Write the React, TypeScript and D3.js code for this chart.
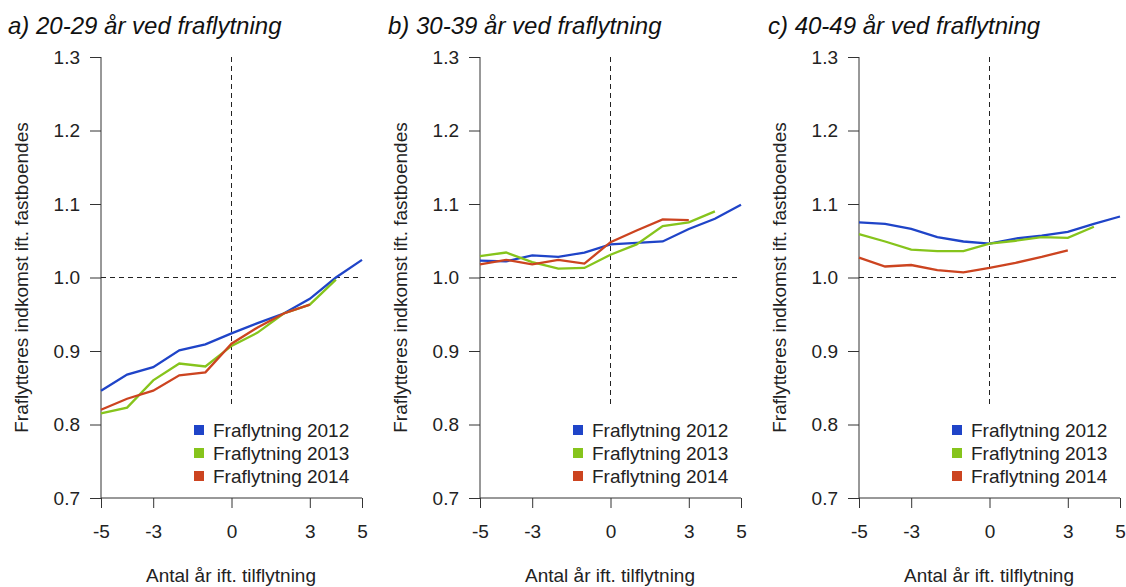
import React, { useEffect, useRef } from "react";
import * as d3 from "d3";

const years = [-5, -4, -3, -2, -1, 0, 1, 2, 3, 4, 5];
const xTicks = [-5, -3, 0, 3, 5];
const yTicks = [0.7, 0.8, 0.9, 1.0, 1.1, 1.2, 1.3];
const seriesNames = ["Fraflytning 2012", "Fraflytning 2013", "Fraflytning 2014"];
const seriesColors = ["#1f44c8", "#86c41c", "#cc4420"];
const panelTitles = ["a) 20-29 år ved fraflytning", "b) 30-39 år ved fraflytning", "c) 40-49 år ved fraflytning"];

// panel a: 20-29
const a2012 = [0.846, 0.868, 0.878, 0.901, 0.909, 0.924, 0.938, 0.951, 0.971, 1.0, 1.024];
const a2013 = [0.815, 0.823, 0.86, 0.883, 0.879, 0.907, 0.925, 0.951, 0.963, 0.997];
const a2014 = [0.82, 0.835, 0.846, 0.867, 0.871, 0.91, 0.932, 0.951, 0.963];
// panel b: 30-39
const b2012 = [1.023, 1.022, 1.03, 1.028, 1.034, 1.045, 1.047, 1.049, 1.066, 1.08, 1.099];
const b2013 = [1.029, 1.034, 1.021, 1.012, 1.013, 1.031, 1.045, 1.07, 1.075, 1.09];
const b2014 = [1.018, 1.024, 1.018, 1.024, 1.019, 1.048, 1.064, 1.079, 1.078];
// panel c: 40-49
const c2012 = [1.075, 1.073, 1.066, 1.055, 1.049, 1.046, 1.053, 1.057, 1.062, 1.073, 1.083];
const c2013 = [1.059, 1.049, 1.038, 1.036, 1.036, 1.046, 1.05, 1.055, 1.054, 1.069];
const c2014 = [1.027, 1.015, 1.017, 1.01, 1.007, 1.013, 1.02, 1.028, 1.037];

const panels = [
  [a2012, a2013, a2014],
  [b2012, b2013, b2014],
  [c2012, c2013, c2014],
];

const W = 1126;
const H = 587;

const App = () => {
  const ref = useRef<SVGSVGElement>(null);

  useEffect(() => {
    const svg = d3.select(ref.current);
    svg.selectAll("*").remove();
    const font = "Liberation Sans, Arial, sans-serif";

    panels.forEach((series, p) => {
      const left = 101 + p * 379;
      const x = d3.scaleLinear().domain([-5, 5]).range([left, left + 261]);
      const y = d3.scaleLinear().domain([0.7, 1.3]).range([498, 57]);
      const g = svg.append("g");

      g.append("text")
        .attr("x", 8 + p * 380)
        .attr("y", 34)
        .attr("font-family", font)
        .attr("font-style", "italic")
        .attr("font-size", 24)
        .attr("fill", "#111")
        .text(panelTitles[p]);

      // y axis
      const yAxis = g.append("g")
        .attr("transform", `translate(${left},0)`)
        .call(d3.axisLeft(y).tickValues(yTicks).tickFormat(d3.format(".1f")).tickSize(11).tickPadding(10));
      yAxis.select(".domain").attr("d", `M0,${y(0.7)}V${y(1.3)}`);
      yAxis.selectAll("text").attr("font-family", font).attr("font-size", 19).attr("fill", "#222");
      yAxis.selectAll("line,path").attr("stroke", "#333");

      // x axis
      const xAxis = g.append("g")
        .attr("transform", `translate(0,498)`)
        .call(d3.axisBottom(x).tickValues(xTicks).tickFormat((d) => String(d)).tickSize(10).tickPadding(17));
      xAxis.select(".domain").attr("d", `M${x(-5)},0H${x(5)}`);
      xAxis.selectAll("text").attr("font-family", font).attr("font-size", 19).attr("fill", "#222");
      xAxis.selectAll("line,path").attr("stroke", "#333");

      g.append("text")
        .attr("x", left + 130)
        .attr("y", 582)
        .attr("text-anchor", "middle")
        .attr("font-family", font)
        .attr("font-size", 19)
        .attr("fill", "#222")
        .text("Antal år ift. tilflytning");

      g.append("text")
        .attr("transform", `translate(${left - 73},${y(1.0)}) rotate(-90)`)
        .attr("text-anchor", "middle")
        .attr("font-family", font)
        .attr("font-size", 19)
        .attr("fill", "#222")
        .text("Fraflytteres indkomst ift. fastboendes");

      // reference lines
      g.append("line")
        .attr("x1", x(-5)).attr("x2", x(5))
        .attr("y1", y(1.0)).attr("y2", y(1.0))
        .attr("stroke", "#222").attr("stroke-dasharray", "5,4");
      g.append("line")
        .attr("x1", x(0)).attr("x2", x(0))
        .attr("y1", y(1.3)).attr("y2", y(0.825))
        .attr("stroke", "#222").attr("stroke-dasharray", "5,4");

      const line = d3.line<number>()
        .x((_, i) => x(years[i]))
        .y((d) => y(d));

      series.forEach((vals, s) => {
        g.append("path")
          .datum(vals)
          .attr("fill", "none")
          .attr("stroke", seriesColors[s])
          .attr("stroke-width", 2.3)
          .attr("d", line);
      });

      // legend
      seriesNames.forEach((name, s) => {
        const ly = 430 + s * 23;
        g.append("rect")
          .attr("x", left + 93).attr("y", ly - 5)
          .attr("width", 10).attr("height", 10)
          .attr("fill", seriesColors[s]);
        g.append("text")
          .attr("x", left + 112).attr("y", ly + 7)
          .attr("font-family", font)
          .attr("font-size", 19)
          .attr("fill", "#222")
          .text(name);
      });
    });
  }, []);

  return <svg ref={ref} width={W} height={H} style={{ display: "block", position: "absolute", left: 0, top: 0 }} />;
};

export default App;
